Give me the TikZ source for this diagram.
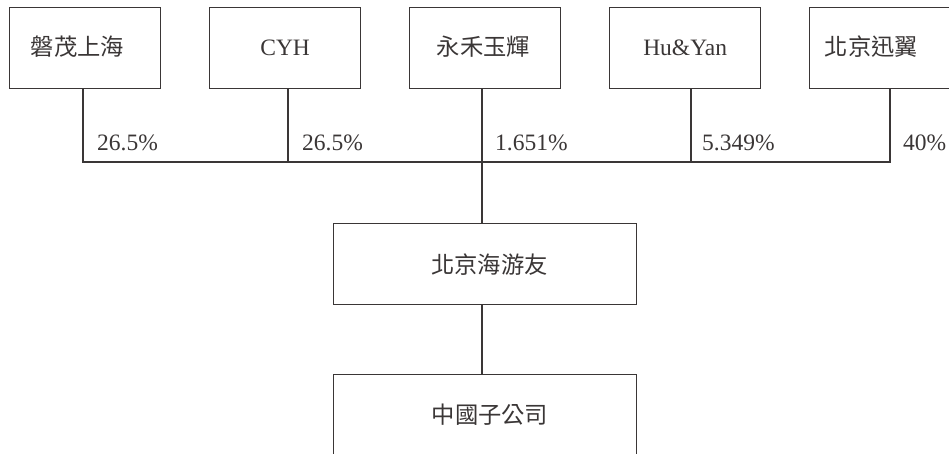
\documentclass[tikz,border=0pt]{standalone}
\usepackage{fontspec}
\setmainfont{Liberation Serif}
\newfontfamily\cjk{Noto Sans CJK TC}
\definecolor{ink}{HTML}{3A3636}
\begin{document}
\begin{tikzpicture}[x=1pt,y=-1pt,
  box/.style={draw=ink, line width=1.3pt, minimum width=151pt, minimum height=81pt, inner sep=0pt, anchor=north west},
  cjktext/.style={font=\cjk\fontsize{23.3}{26}\selectfont, text=ink, inner sep=0pt},
  lattext/.style={font=\fontsize{23.5}{26}\selectfont, text=ink, inner sep=0pt},
  pct/.style={lattext, anchor=west},
  link/.style={draw=ink, line width=1.3pt}]
\useasboundingbox (0,0) rectangle (949,454);
\clip (0,0) rectangle (949,454);
\node[box] (b1) at (9,7) {};
\node[box] (b2) at (209,7) {};
\node[box] (b3) at (409,7) {};
\node[box] (b4) at (609,7) {};
\node[box] (b5) at (809,7) {};
\node[box, minimum width=303pt] (mid) at (333,223) {};
\node[box, minimum width=303pt, minimum height=120pt] (sub) at (333,374) {};
\node[cjktext] (t1) at (77.5,47) {磐茂上海};
\node[lattext] (t2) at (b2.center) {CYH};
\node[cjktext] (t3) at (483.5,47) {永禾玉輝};
\node[lattext] (t4) at (b4.center) {Hu\&Yan};
\node[cjktext] (t5) at (871.5,47) {北京迅翼};
\node[cjktext] (tm) at (489.5,265) {北京海游友};
\node[cjktext] (ts) at (490,415) {中國子公司};
\coordinate (j1) at (83,162);
\coordinate (j2) at (288,162);
\coordinate (j3) at (482,162);
\coordinate (j4) at (691,162);
\coordinate (j5) at (890,162);
\draw[link] (b1.south -| j1) -- (j1) -- (j5) -- (b5.south -| j5);
\draw[link] (b2.south -| j2) -- (j2);
\draw[link] (b3.south -| j3) -- (mid.north -| j3);
\draw[link] (b4.south -| j4) -- (j4);
\draw[link] (mid.south -| j3) -- (sub.north -| j3);
\node[pct] (p1) at (97,143) {26.5\%};
\node[pct] (p2) at (302,143) {26.5\%};
\node[pct] (p3) at (495,143) {1.651\%};
\node[pct] (p4) at (702,143) {5.349\%};
\node[pct] (p5) at (903,143) {40\%};
\end{tikzpicture}
\end{document}
